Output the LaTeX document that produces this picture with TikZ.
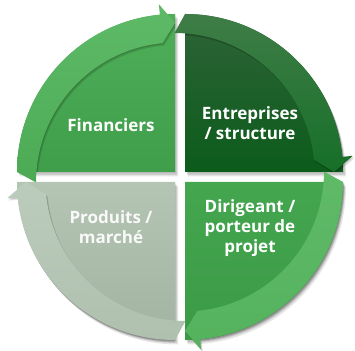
\documentclass[tikz,border=0pt]{standalone}
\usepackage{fontspec}
\setmainfont{Open Sans}
\begin{document}
\begin{tikzpicture}[x=1pt,y=1pt,
  lbl/.style={text=white,font=\bfseries\fontsize{17}{20}\selectfont,align=center,inner sep=0pt},
  shad/.style={fill=black,opacity=0.10}]
\definecolor{tlpa}{HTML}{4FAE58}\definecolor{tlpb}{HTML}{3F9E4A}
\definecolor{tlba}{HTML}{5EBA67}\definecolor{tlbb}{HTML}{4CAA55}
\definecolor{trpa}{HTML}{2E6338}\definecolor{trpb}{HTML}{0C5C1B}
\definecolor{trba}{HTML}{3F7D47}\definecolor{trbb}{HTML}{166F28}
\definecolor{brpa}{HTML}{45A650}\definecolor{brpb}{HTML}{3A9A45}
\definecolor{brba}{HTML}{60BA68}\definecolor{brbb}{HTML}{54B25D}
\definecolor{blpa}{HTML}{B4C5B4}\definecolor{blpb}{HTML}{A2B3A2}
\definecolor{blba}{HTML}{BCCCBC}\definecolor{blbb}{HTML}{AFC0AF}
\useasboundingbox (0,0) rectangle (355,350);
\newcommand\quadpiece[7]{%
 \begin{scope}[shift={(#1)}]
  \pgfmathsetmacro\qa{#2}
  \pgfmathsetmacro\qb{#2-90}
  \pgfmathsetmacro\qh{#2-84.5}
  \foreach \dx/\dy in {1/-1.5,2/-3,3/-4.5}
   \fill[shad,shift={(\dx,\dy)}] (0,0) -- (\qa:158) arc[start angle=\qa,end angle=\qb,radius=158] -- cycle;
  \shade[top color=#3,bottom color=#4] (0,0) -- (\qa:158) arc[start angle=\qa,end angle=\qb,radius=158] -- cycle;
  \begin{scope}
   \clip (0,0) -- (\qa:200) arc[start angle=\qa,end angle=\qb,radius=200] -- cycle;
   \foreach \dx/\dy in {0.8/-1.2,1.6/-2.4}
    \fill[black,opacity=0.12,shift={(\dx,\dy)}] (\qa:158) arc[start angle=\qa,end angle=\qh,radius=158] -- (\qh:168.5) -- (\qb:149) -- (\qh:129.5) arc[start angle=\qh,end angle=\qa,radius=140] -- cycle;
  \end{scope}
  \shade[top color=#5,bottom color=#6] (\qa:158) arc[start angle=\qa,end angle=\qh,radius=158] -- (\qh:168.5) -- (\qb:149) -- (\qh:129.5) arc[start angle=\qh,end angle=\qa,radius=140] -- cycle;
 \end{scope}}
\quadpiece{175,178}{180}{tlpa}{tlpb}{tlba}{tlbb}{}
\quadpiece{185,178}{90}{trpa}{trpb}{trba}{trbb}{}
\quadpiece{185,168}{0}{brpa}{brpb}{brba}{brbb}{}
\quadpiece{175,168}{270}{blpa}{blpb}{blba}{blbb}{}
\node[lbl] (fin) at (111,225) {Financiers};
\node[lbl] (ent) at (250,227) {Entreprises\\/ structure};
\node[lbl] (dir) at (250,122) {Dirigeant /\\porteur de\\projet};
\node[lbl,text=white!95!gray] (prod) at (111,122.5) {Produits /\\march\'e};
\end{tikzpicture}
\end{document}
